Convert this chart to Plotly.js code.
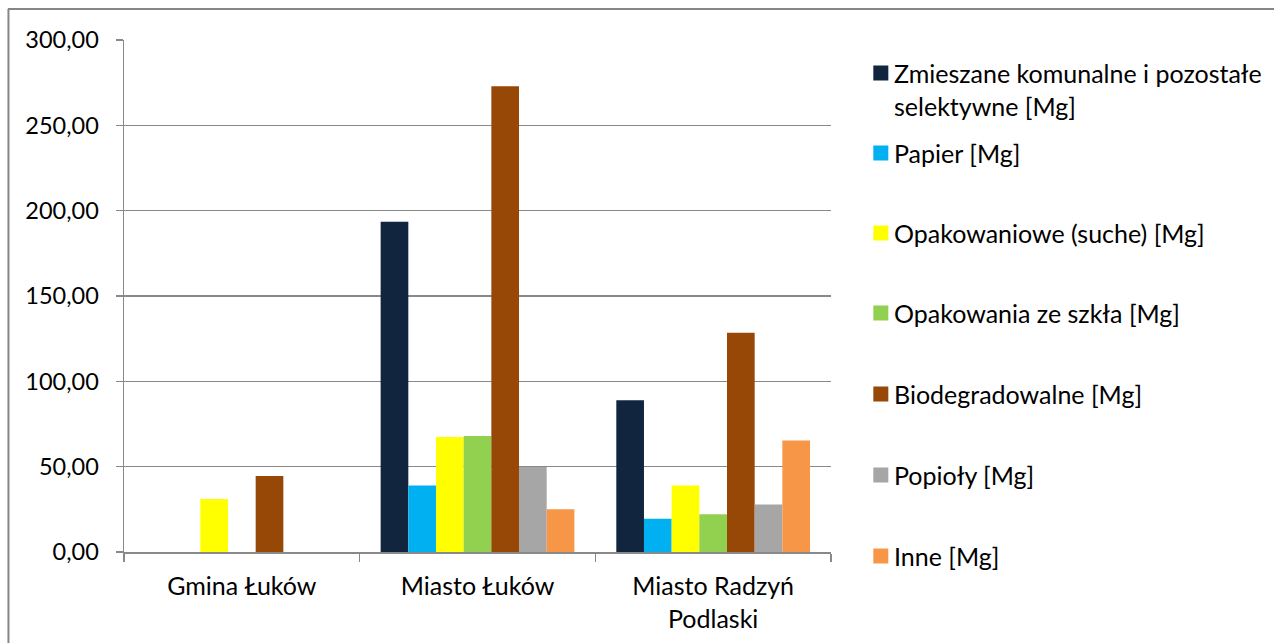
<!DOCTYPE html>
<html>
<head>
<meta charset="utf-8">
<script src="https://cdn.plot.ly/plotly-3.0.1.min.js"></script>
<style>
html,body{margin:0;padding:0;background:#fff;}
#chart{width:1274px;height:643px;}
</style>
</head>
<body>
<div id="chart"></div>
<script>
var categories = ["Gmina Łuków", "Miasto Łuków", "Miasto Radzyń<br>Podlaski"];
var seriesNames = [
  "Zmieszane komunalne i pozostałe<br>selektywne [Mg]",
  "Papier [Mg]",
  "Opakowaniowe (suche) [Mg]",
  "Opakowania ze szkła [Mg]",
  "Biodegradowalne [Mg]",
  "Popioły [Mg]",
  "Inne [Mg]"
];
var zmieszane = [0, 193.5, 88.9];
var papier = [0, 38.9, 19.5];
var opakowaniowe = [31.1, 67.4, 38.9];
var szklo = [0, 68.0, 22.1];
var biodegradowalne = [44.5, 272.9, 128.5];
var popioly = [0, 49.8, 27.9];
var inne = [0, 25.0, 65.4];
var colors = ["#11253F", "#00B0F0", "#FFFF00", "#92D050", "#974706", "#A6A6A6", "#F79646"];

var seriesValues = [zmieszane, papier, opakowaniowe, szklo, biodegradowalne, popioly, inne];

var W = 1274, H = 643;
var L = 124, R = 830.7, T = 40, B = 552;
function px(x){ return (x - L) / (R - L); }
function py(y){ return (B - y) / (B - T); }

var traces = seriesValues.map(function(v, i){
  return {
    type: "bar",
    x: categories,
    y: v,
    name: seriesNames[i],
    marker: {color: colors[i], line: {width: 0}},
    showlegend: false,
    hoverinfo: "y"
  };
});

var FONT = "Lato, 'Open Sans', sans-serif";
var legendY = [89, 153, 233, 313, 394, 475, 556];
var annotations = [];
var shapes = [];
seriesNames.forEach(function(n, i){
  var cy = i === 0 ? 73 : legendY[i];
  shapes.push({
    type: "rect", xref: "paper", yref: "paper",
    x0: px(873), x1: px(888), y0: py(cy - 7.5), y1: py(cy + 7.5),
    fillcolor: colors[i], line: {width: 0}
  });
  annotations.push({
    xref: "paper", yref: "paper",
    x: px(892), y: py(legendY[i]),
    xanchor: "left", yanchor: "middle", align: "left",
    text: n, showarrow: false,
    font: {family: FONT, size: 25, color: "#000"}
  });
});
// outer chart border (top and left visible)
shapes.push({type: "line", xref: "paper", yref: "paper",
  x0: px(8), x1: px(1274), y0: py(9), y1: py(9), line: {color: "#868686", width: 2}});
shapes.push({type: "line", xref: "paper", yref: "paper",
  x0: px(8.5), x1: px(8.5), y0: py(9), y1: py(643), line: {color: "#868686", width: 2}});

var layout = {
  width: W, height: H,
  margin: {l: L, r: W - R, t: T, b: H - B, pad: 0},
  paper_bgcolor: "#fff", plot_bgcolor: "#fff",
  separators: ", ",
  barmode: "group",
  bargap: 0.178,
  bargroupgap: 0,
  font: {family: FONT, size: 23, color: "#000"},
  xaxis: {
    type: "category",
    showline: true, linecolor: "#898989", linewidth: 2,
    ticks: "outside", tickson: "boundaries", ticklen: 8, tickcolor: "#898989", tickwidth: 1.5,
    showgrid: false, zeroline: false,
    tickfont: {family: FONT, size: 25, color: "#000"},
    ticklabelstandoff: 11,
    fixedrange: true
  },
  yaxis: {
    range: [0, 300], dtick: 50, tick0: 0,
    tickformat: ".2f",
    showline: true, linecolor: "#898989", linewidth: 1.5,
    ticks: "outside", ticklen: 7, tickcolor: "#898989", tickwidth: 1.5,
    showgrid: true, gridcolor: "#898989", gridwidth: 1.5,
    zeroline: false,
    tickfont: {family: FONT, size: 23.5, color: "#000"},
    ticklabelstandoff: 12,
    fixedrange: true
  },
  shapes: shapes,
  annotations: annotations,
  showlegend: false
};

Plotly.newPlot("chart", traces, layout, {displayModeBar: false, staticPlot: true});
</script>
</body>
</html>
